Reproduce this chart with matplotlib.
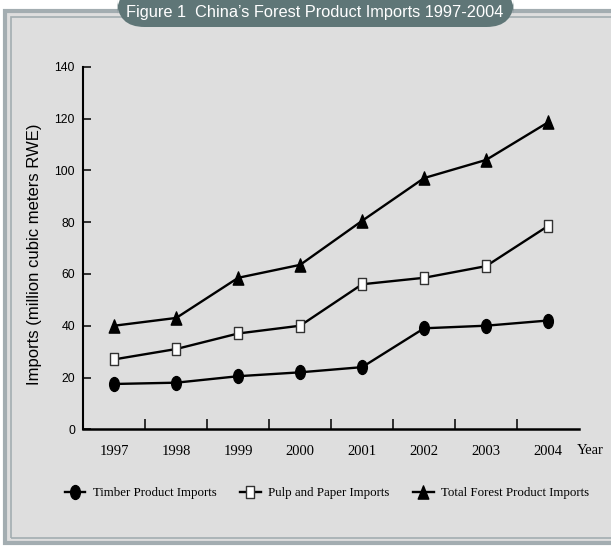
import numpy as np
import matplotlib
matplotlib.use("Agg")
import matplotlib.pyplot as plt
from matplotlib import font_manager as fm
from matplotlib.path import Path
from matplotlib.transforms import Affine2D
from matplotlib.patches import Rectangle, FancyBboxPatch
from matplotlib.lines import Line2D

# ── datos ────────────────────────────────────────────────────────
years = ["1997", "1998", "1999", "2000", "2001", "2002", "2003", "2004"]
timber = [17.5, 18.0, 20.5, 22.0, 24.0, 39.0, 40.0, 42.0]
pulp = [27.0, 31.0, 37.0, 40.0, 56.0, 58.5, 63.0, 78.5]
total = [40.0, 43.0, 58.5, 63.5, 80.5, 97.0, 104.0, 118.5]
y_ticks = [0, 20, 40, 60, 80, 100, 120, 140]

series_labels = ["Timber Product Imports", "Pulp and Paper Imports",
                 "Total Forest Product Imports"]
title = "Figure 1  China\u2019s Forest Product Imports 1997-2004"
ylabel = "Imports (million cubic meters RWE)"


def pick(*names):
    avail = {f.name for f in fm.fontManager.ttflist}
    for n in names:
        if n in avail:
            return n
    return "DejaVu Sans"


NARROW = pick("Liberation Sans Narrow", "Liberation Sans")
SANS = pick("Liberation Sans", "DejaVu Sans")
SERIF = pick("Liberation Serif", "DejaVu Serif")
is_narrow = NARROW == "Liberation Sans Narrow"

# marcadores "estirados" en vertical como en la figura original
ellipse = Path.unit_circle().transformed(Affine2D().scale(0.7, 1.0))
square = Path([(-0.7, -1), (0.7, -1), (0.7, 1), (-0.7, 1), (-0.7, -1)],
              [Path.MOVETO, Path.LINETO, Path.LINETO, Path.LINETO, Path.CLOSEPOLY])
triangle = Path([(0, 1), (-0.8, -1), (0.8, -1), (0, 1)],
                [Path.MOVETO, Path.LINETO, Path.LINETO, Path.CLOSEPOLY])

W, H = 611, 546
fig = plt.figure(figsize=(W / 100, H / 100), dpi=100)
fig.patch.set_facecolor("white")

# ── marco de fondo ───────────────────────────────────────────────
BG = "#dedede"
BORDER = "#a3adb1"
fig.add_artist(Rectangle((5 / W, 1 - 543 / H), 700 / W, (543 - 11) / H,
                         transform=fig.transFigure, facecolor=BG,
                         edgecolor=BORDER, linewidth=3.0, zorder=0))
fig.add_artist(Rectangle((10.5 / W, 1 - 538 / H), 700 / W, (538 - 16.5) / H,
                         transform=fig.transFigure, facecolor="none",
                         edgecolor=BORDER, linewidth=1.2, zorder=0))

# ── cinta del título ─────────────────────────────────────────────
fig.add_artist(FancyBboxPatch((117 / W, 1 - 27 / H), (514 - 117) / W, 40 / H,
                              boxstyle="round,pad=0,rounding_size=0.045",
                              transform=fig.transFigure, facecolor="#5f7677",
                              edgecolor="none", zorder=1,
                              mutation_aspect=W / H))
fig.text(315 / W, 1 - 13 / H, title, color="white", ha="center", va="center",
         fontsize=13.5 if is_narrow else 11.8, family=NARROW, zorder=2)

# ── ejes ─────────────────────────────────────────────────────────
ax = fig.add_axes([83.3 / W, 1 - 429.3 / H, (579 - 83.3) / W, (429.3 - 66.7) / H])
ax.set_facecolor("none")
x = np.arange(len(years))

ax.plot(x, total, color="black", lw=1.7, marker=triangle, ms=9.5,
        mfc="black", mec="black", clip_on=False, zorder=3)
ax.plot(x, pulp, color="black", lw=1.7, marker=square, ms=9,
        mfc="white", mec="#333333", mew=1.0, clip_on=False, zorder=3)
ax.plot(x, timber, color="black", lw=1.7, marker=ellipse, ms=10,
        mfc="black", mec="black", clip_on=False, zorder=3)

ax.set_xlim(-0.5, len(years) - 0.5)
ax.set_ylim(0, 140)
for s in ["top", "right"]:
    ax.spines[s].set_visible(False)
ax.spines["left"].set_linewidth(1.5)
ax.spines["bottom"].set_linewidth(1.8)

ax.set_xticks(x)
ax.set_xticklabels(years, family=SERIF, fontsize=10.5)
ax.tick_params(axis="x", length=0, pad=11)
ax.set_xticks(x[:-1] + 0.5, minor=True)
ax.tick_params(axis="x", which="minor", direction="in", length=7.2, width=1.1)

ax.set_yticks(y_ticks)
ax.set_yticklabels([str(v) for v in y_ticks], family=NARROW,
                   fontsize=9.5 if is_narrow else 8.8)
ax.tick_params(axis="y", direction="in", length=5.8, width=1.1, pad=6)

fig.text(35 / W, 1 - 254 / H, ylabel, rotation=90, ha="center", va="center",
         family=SANS, fontsize=12)
fig.text(590 / W, 1 - 450 / H, "Year", ha="center", va="center",
         family=SERIF, fontsize=10.5)

# ── leyenda ──────────────────────────────────────────────────────
handles = [
    Line2D([], [], color="black", lw=1.7, marker=ellipse, ms=10, mfc="black", mec="black"),
    Line2D([], [], color="black", lw=1.7, marker=square, ms=9, mfc="white", mec="#333333", mew=1.0),
    Line2D([], [], color="black", lw=1.7, marker=triangle, ms=9.5, mfc="black", mec="black"),
]
fig.legend(handles, series_labels, loc="center", ncol=3, frameon=False,
           bbox_to_anchor=(327 / W, 1 - 493 / H), prop={"family": SERIF, "size": 9.3},
           handlelength=1.6, handletextpad=0.6, columnspacing=1.8,
           borderpad=0, borderaxespad=0)

fig.savefig("out.png", dpi=100, facecolor=fig.get_facecolor())
